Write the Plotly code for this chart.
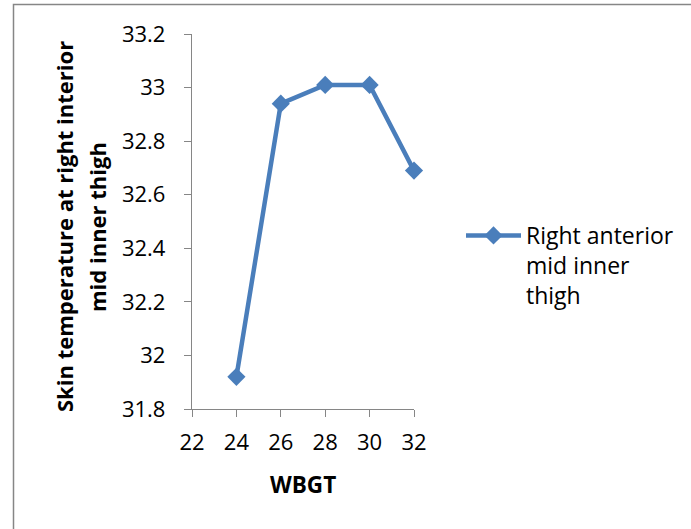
import plotly.graph_objects as go

# WBGT levels and skin temperature readings
wbgt = [24, 26, 28, 30, 32]
skin_temp = [31.92, 32.94, 33.01, 33.01, 32.69]
series_name = "Right anterior<br>mid inner<br>thigh"
x_ticks = [22, 24, 26, 28, 30, 32]
y_ticks = [31.8, 32.0, 32.2, 32.4, 32.6, 32.8, 33.0, 33.2]
y_tick_text = ["31.8", "32", "32.2", "32.4", "32.6", "32.8", "33", "33.2"]

W, H = 691, 529
ML, MR, MT, MB = 192, 277, 34, 120
PW, PH = W - ML - MR, H - MT - MB

def px_x(p):
    return (p - ML) / PW

def px_y(p):
    return (H - MB - p) / PH

FONT = "Open Sans"
BLUE = "rgb(74,126,187)"
GRAY = "rgb(134,134,134)"

fig = go.Figure()
fig.add_trace(go.Scatter(
    x=wbgt, y=skin_temp, name=series_name, mode="lines+markers",
    line=dict(color=BLUE, width=4.5),
    marker=dict(symbol="diamond", size=14, color=BLUE),
    cliponaxis=False,
))

fig.update_layout(
    width=W, height=H,
    margin=dict(l=ML, r=MR, t=MT, b=MB, autoexpand=False),
    paper_bgcolor="white", plot_bgcolor="white",
    font=dict(family=FONT, size=22, color="black"),
    showlegend=True,
    legend=dict(
        x=px_x(461), y=px_y(214), xanchor="left", yanchor="top",
        font=dict(family=FONT, size=23, color="black"),
        bgcolor="rgba(0,0,0,0)", itemwidth=55, valign="top",
        tracegroupgap=0,
    ),
    xaxis=dict(
        range=[22, 32], tickvals=x_ticks, showgrid=False, zeroline=False,
        showline=True, linecolor=GRAY, linewidth=1.3,
        ticks="outside", ticklen=7, tickcolor=GRAY, tickwidth=1.3,
        ticklabelstandoff=6,
    ),
    yaxis=dict(
        range=[31.8, 33.2], tickvals=y_ticks, ticktext=y_tick_text,
        showgrid=False, zeroline=False,
        showline=True, linecolor=GRAY, linewidth=1.3,
        ticks="outside", ticklen=7, tickcolor=GRAY, tickwidth=1.3,
        ticklabelstandoff=14,
    ),
    annotations=[
        dict(text="<b>WBGT</b>", xref="paper", yref="paper",
             x=px_x(303), y=px_y(485), xanchor="center", yanchor="middle",
             showarrow=False, font=dict(family=FONT, size=22.5)),
        dict(text="<b>Skin temperature at right interior</b>",
             xref="paper", yref="paper", x=px_x(64), y=px_y(227),
             xanchor="center", yanchor="middle", textangle=-90,
             showarrow=False, font=dict(family=FONT, size=22)),
        dict(text="<b>mid inner thigh</b>",
             xref="paper", yref="paper", x=px_x(97), y=px_y(227),
             xanchor="center", yanchor="middle", textangle=-90,
             showarrow=False, font=dict(family=FONT, size=22)),
    ],
    shapes=[
        dict(type="rect", xref="paper", yref="paper",
             x0=px_x(13.5), x1=px_x(700), y0=px_y(540), y1=px_y(4.5),
             line=dict(color=GRAY, width=1.5), fillcolor="rgba(0,0,0,0)",
             layer="below"),
    ],
)

fig.write_html("out.html")
